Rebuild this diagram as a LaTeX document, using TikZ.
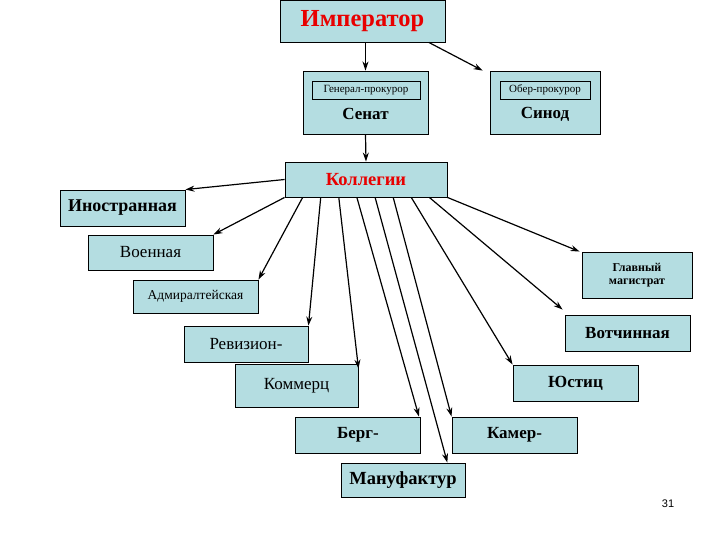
\documentclass[tikz,border=0pt]{standalone}
\usepackage{fontspec}
\setmainfont{Liberation Serif}
\newfontfamily\pagenumfont{Liberation Sans}
\usetikzlibrary{arrows.meta, positioning, calc}
\definecolor{boxfill}{RGB}{180,221,225}
\definecolor{headred}{RGB}{232,0,0}

\begin{document}
\begin{tikzpicture}[x=1pt, y=-1pt,
	box/.style={rectangle, draw=black, fill=boxfill, line width=0.9pt, inner sep=0pt, align=center, minimum width=125pt, minimum height=36pt},
	tagbox/.style={rectangle, draw=black, fill=boxfill, line width=0.7pt, inner sep=0pt, minimum height=18pt, font=\fontsize{11}{12}\selectfont},
	big/.style={font=\fontsize{17}{19}\selectfont},
	bigb/.style={font=\fontsize{17}{19}\selectfont\bfseries},
	head/.style={text=headred, font=\fontsize{18.5}{20}\selectfont\bfseries},
	arrow/.style={-{Stealth[length=9pt, width=6pt]}, line width=1.2pt, draw=black}
	]
	\useasboundingbox (0,0) rectangle (720,540);

	% top level
	\node[box, head, minimum width=165pt, minimum height=42pt, font=\fontsize{24.5}{26}\selectfont\bfseries] (imp) at (362.5,21) {Император};
	\node[box, minimum width=125pt, minimum height=63pt] (senat) at (365.5,102.5) {};
	\node[tagbox, minimum width=108pt] (genpro) at (366,90) {Генерал-прокурор};
	\node[bigb] (senatlbl) at (365.5,114) {Сенат};
	\node[box, minimum width=110pt, minimum height=63pt] (sinod) at (545,102.5) {};
	\node[tagbox, minimum width=90pt] (oberpro) at (545,90) {Обер-прокурор};
	\node[bigb] (sinodlbl) at (545,114) {Синод};

	\node[box, head, minimum width=162pt, minimum height=35pt] (koll) at (366,179.5) {Коллегии};

	% collegia
	\node[box, bigb, font=\fontsize{18}{20}\selectfont\bfseries] (inostr) at (122.5,208) {Иностранная};
	\node[box, big, minimum height=35pt] (voen) at (150.5,252.5) {Военная};
	\node[box, minimum height=33pt, font=\fontsize{13.5}{15}\selectfont] (admir) at (195.5,296.5) {Адмиралтейская};
	\node[box, minimum width=110pt, minimum height=46pt, font=\fontsize{12}{13.5}\selectfont\bfseries] (glavmag) at (637,275) {Главный\\магистрат};
	\node[box, bigb] (votch) at (627.5,333) {Вотчинная};
	\node[box, big, minimum width=124pt] (reviz) at (246,344) {Ревизион-};
	\node[box, big, minimum width=123pt, minimum height=43pt] (kommerc) at (296.5,385.5) {Коммерц};
	\node[box, bigb] (justic) at (575.5,383) {Юстиц};
	\node[box, bigb] (berg) at (358,435) {Берг-};
	\node[box, bigb] (kamer) at (514.5,435) {Камер-};
	\node[box, bigb, minimum width=124pt, minimum height=34pt, font=\fontsize{18.5}{20}\selectfont\bfseries] (manuf) at (403,480) {Мануфактур};

	\node[font=\pagenumfont\fontsize{11}{13}\selectfont] (pagenum) at (668,504) {31};

	\draw[arrow] (imp.south -| senat.north) -- (senat.north);
	\draw[arrow] ($(imp.south west)!0.9!(imp.south east)$) -- ($(sinod.north west)+(-7,0)$);
	\draw[arrow] (senat.south) -- (koll.north);

	\draw[arrow] ($(koll.north west)!0.5!(koll.south west)$) -- (inostr.north east);
	\draw[arrow] (koll.south west) -- (voen.north east);
	\draw[arrow] ($(koll.south west)!0.111!(koll.south east)$) -- (admir.north east);
	\draw[arrow] ($(koll.south west)!0.222!(koll.south east)$) -- (reviz.north east);
	\draw[arrow] ($(koll.south west)!0.333!(koll.south east)$) -- ($(kommerc.north east)+(0,5)$);
	\draw[arrow] ($(koll.south west)!0.444!(koll.south east)$) -- ($(berg.north east)+(-2,0)$);
	\draw[arrow] ($(koll.south west)!0.556!(koll.south east)$) -- ($(manuf.north west)!0.855!(manuf.north east)$);
	\draw[arrow] ($(koll.south west)!0.667!(koll.south east)$) -- (kamer.north west);
	\draw[arrow] ($(koll.south west)!0.778!(koll.south east)$) -- (justic.north west);
	\draw[arrow] ($(koll.south west)!0.889!(koll.south east)$) -- ($(votch.north west)+(-2,-5)$);
	\draw[arrow] (koll.south east) -- ($(glavmag.north west)+(-2,0)$);
\end{tikzpicture}
\end{document}
